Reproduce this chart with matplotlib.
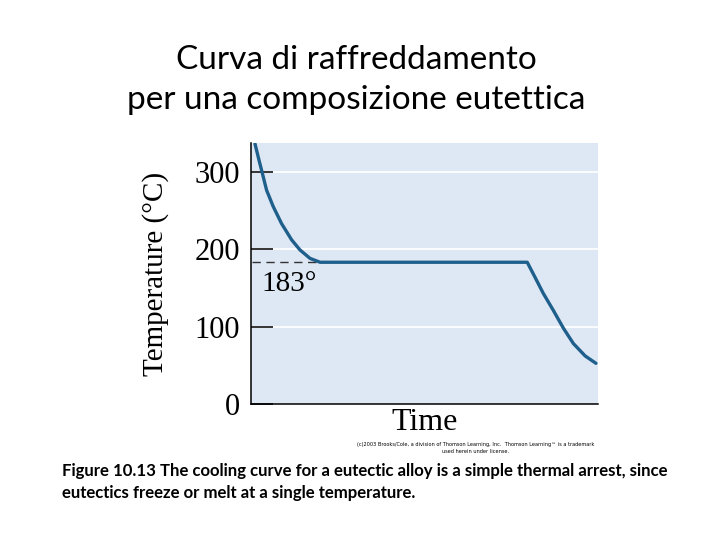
import matplotlib
matplotlib.use('Agg')
import matplotlib.pyplot as plt

# curve: time (arbitrary units 0-10) and temperature in C
time = [0.115, 0.23, 0.31, 0.45, 0.64, 0.88, 1.17, 1.41, 1.70, 1.99,
        7.96, 8.18, 8.42, 8.71, 9.00, 9.29, 9.63, 9.94]
temp = [336, 315, 301, 276, 255, 233, 212, 199, 188, 183,
        183, 164, 143, 121, 98, 78, 62, 52.5]
eutectic_t = 183
yticks = [0, 100, 200, 300]

title = "Curva di raffreddamento\nper una composizione eutettica"
caption = ("Figure 10.13 The cooling curve for a eutectic alloy is a simple thermal arrest, since\n"
           "eutectics freeze or melt at a single temperature.")
credit = ("(c)2003 Brooks/Cole, a division of Thomson Learning, Inc.  Thomson Learning\u2122 is a trademark\n"
          "used herein under license.")

fig = plt.figure(figsize=(7.2, 5.4), dpi=100)
ax = fig.add_axes([0.3486, 0.2519, 0.482, 0.4833])
ax.set_facecolor('#dde8f4')
ax.plot(time, temp, color='#1f5f8c', lw=2.4, solid_capstyle='round',
        solid_joinstyle='round', zorder=3)

ax.set_xlim(0, 10)
ax.set_ylim(0, 337)
for t in yticks[1:]:
    ax.axhline(t, color='white', lw=1.2, zorder=1)

ax.set_yticks(yticks)
ax.set_yticklabels([str(t) for t in yticks], family='Liberation Serif', fontsize=22)
ax.tick_params(axis='y', direction='in', length=16, width=1.1, color='black', pad=8)
ax.set_xticks([])
for s in ['top', 'right']:
    ax.spines[s].set_visible(False)
ax.spines['left'].set_linewidth(1.1)
ax.spines['bottom'].set_linewidth(1.1)

# dashed eutectic marker and label
ax.plot([0.03, 1.99], [eutectic_t, eutectic_t], color='#333333', lw=1.0,
        dashes=(6, 4), zorder=2)
ax.text(0.3, eutectic_t - 11, '183\u00b0', family='Liberation Serif', fontsize=21,
        va='top', ha='left')

ax.set_ylabel('Temperature (\u00b0C)', family='Liberation Serif', fontsize=21, labelpad=18)
ax.set_xlabel('Time', family='Liberation Serif', fontsize=23, labelpad=3)

fig.text(0.495, 0.852, title, ha='center', va='center', family='Lato', fontsize=24,
         linespacing=1.45)
fig.text(0.66, 0.17, credit, ha='center', va='center', fontsize=3.6, linespacing=1.5)
fig.text(0.086, 0.108, caption, ha='left', va='center', family='Lato', fontsize=12.1,
         fontweight='bold', linespacing=1.45)

fig.savefig('out.png', dpi=100)
